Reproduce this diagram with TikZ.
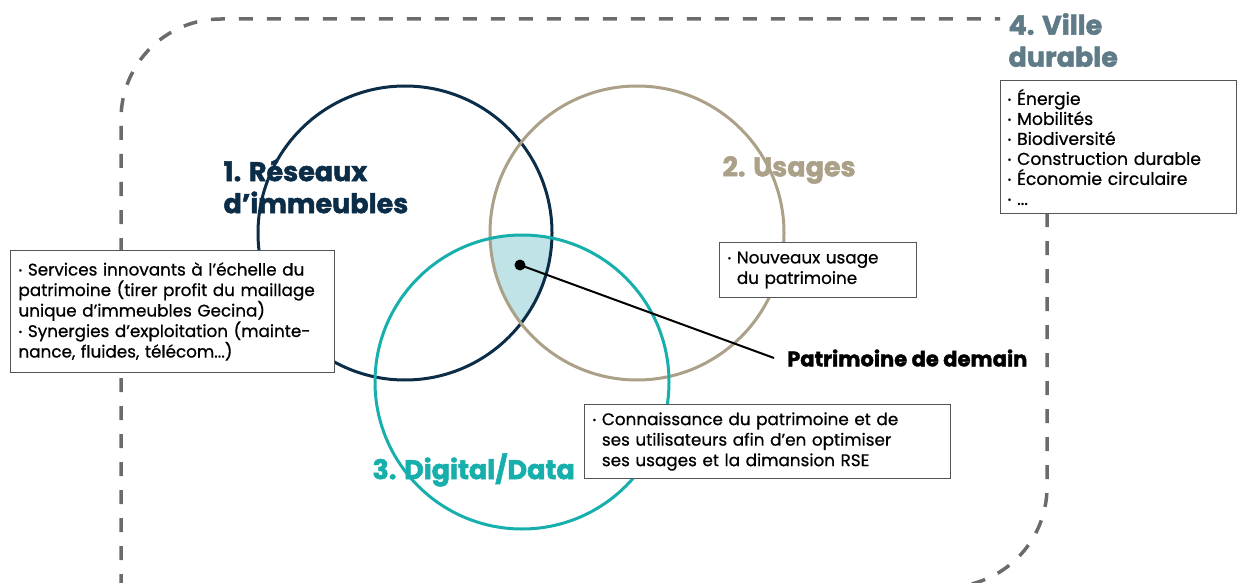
\documentclass[tikz,border=0pt]{standalone}
\usepackage{fontspec}
\setmainfont{Poppins}[BoldFeatures={FakeBold=1.8}]
\newfontfamily\medfont{Poppins}[FakeBold=0.7]
\definecolor{navy}{HTML}{0C2D48}
\definecolor{tan}{HTML}{ABA088}
\definecolor{teal2}{HTML}{17AFAC}
\definecolor{shadeblue}{HTML}{BFE3E6}
\definecolor{villec}{HTML}{5F7B88}
\definecolor{dashc}{HTML}{6B6B6B}
\definecolor{boxc}{HTML}{555555}
\newcommand{\bul}{\raisebox{0.22ex}{\scalebox{0.55}{•}}}
\tikzset{
  ring/.style={circle, inner sep=0pt, minimum size=294pt, line width=3pt},
  dashline/.style={draw=dashc, line width=3.5pt, dash pattern=on 14pt off 14pt},
  infobox/.style={draw=boxc, line width=1pt, fill=white, anchor=north west, align=left,
    inner xsep=8pt, inner ysep=0pt, font=\medfont\fontsize{16.8}{20.5}\selectfont},
  title/.style={anchor=west, align=left, font=\bfseries\fontsize{27}{32}\selectfont}
}
\begin{document}
\begin{tikzpicture}[x=1pt,y=-1pt]
\useasboundingbox (0,0) rectangle (1237,583);
\begin{scope}
\clip (0,0) rectangle (1237,583);
\draw[dashline, rounded corners=100pt] (121,700) -- (121,19) -- (1000,19);
\draw[dashline, rounded corners=100pt] (1047,213) -- (1047,587) -- (800,587);
\end{scope}
% intersection shading
\begin{scope}
\clip (405,233) circle[radius=147pt];
\clip (637,233) circle[radius=147pt];
\fill[shadeblue] (522,382) circle[radius=147pt];
\end{scope}
\node[ring, draw=navy] (c1) at (405,233) {};
\node[ring, draw=tan] (c2) at (637,233) {};
\node[ring, draw=teal2] (c3) at (522,382) {};
% titles
\node[title, text=navy] (t1) at (220,186) {1. Réseaux\\d’immeubles};
\node[title, text=tan] (t2) at (719,170) {2. Usages};
\node[title, text=teal2] (t3) at (369,470) {3. Digital/Data};
\node[title, text=villec] (t4) at (1005,40) {4. Ville\\durable};
% boxes
\node[infobox, minimum width=324pt, minimum height=122pt, text width=308pt] (b1) at (10,250)
 {\bul\ Services innovants à l’échelle du\\patrimoine (tirer profit du maillage\\unique d’immeubles Gecina)\\\bul\ Synergies d’exploitation (mainte-\\nance, fluides, télécom...)};
\node[infobox, minimum width=197pt, minimum height=55pt, text width=181pt] (b2) at (719,242)
 {\bul\ Nouveaux usage\\\phantom{\bul\ }du patrimoine};
\node[infobox, minimum width=366pt, minimum height=74pt, text width=350pt] (b3) at (584,404)
 {\bul\ Connaissance du patrimoine et de\\\phantom{\bul\ }ses utilisateurs afin d’en optimiser\\\phantom{\bul\ }ses usages et la dimansion RSE};
\node[infobox, minimum width=236pt, minimum height=133pt, text width=222pt, inner xsep=7pt,
  font=\medfont\fontsize{17.2}{20}\selectfont] (b4) at (1000,80)
 {\bul\ Énergie\\\bul\ Mobilités\\\bul\ Biodiversité\\\bul\ Construction durable\\\bul\ Économie circulaire\\\bul\ ...};
% patrimoine de demain
\node[circle, fill=black, minimum size=11pt, inner sep=0pt] (dot) at (520,265) {};
\node[anchor=west, inner sep=0pt, font=\bfseries\fontsize{21}{24}\selectfont] (pdd) at (787,358) {Patrimoine de demain};
\coordinate (pend) at (774,358);
\draw[line width=2pt] (dot.center) -- (pend);
\end{tikzpicture}
\end{document}
